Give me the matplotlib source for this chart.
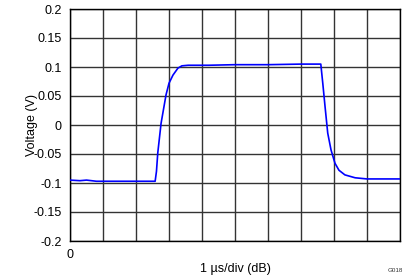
import matplotlib
matplotlib.use("Agg")
import matplotlib.pyplot as plt

plt.rcParams['font.family'] = ['Liberation Sans', 'DejaVu Sans']

# time in divisions (1 us/div), voltage in V
t = [0.0, 0.3, 0.5, 0.8, 1.2, 1.6, 2.0, 2.4, 2.58, 2.62, 2.66, 2.76, 2.91, 3.00,
     3.12, 3.27, 3.39, 3.58, 4.2, 5.0, 6.0, 7.0, 7.55, 7.60, 7.66, 7.73, 7.81,
     7.91, 8.03, 8.15, 8.33, 8.64, 9.0, 9.5, 10.0]
v = [-0.095, -0.096, -0.095, -0.097, -0.097, -0.097, -0.097, -0.097, -0.097,
     -0.080, -0.048, 0.003, 0.052, 0.072, 0.086, 0.098, 0.102, 0.103, 0.103,
     0.104, 0.104, 0.105, 0.105, 0.105, 0.072, 0.031, -0.014, -0.043, -0.066,
     -0.078, -0.086, -0.091, -0.093, -0.093, -0.093]

yticks = [-0.2, -0.15, -0.1, -0.05, 0, 0.05, 0.1, 0.15, 0.2]
ylabels = ["-0.2", "-0.15", "-0.1", "-0.05", "0", "0.05", "0.1", "0.15", "0.2"]

fig = plt.figure(figsize=(4.19, 2.79), dpi=100)
ax = fig.add_axes([70 / 419, 38 / 279, 330 / 419, 232 / 279])

ax.plot(t, v, color="#0000FF", linewidth=1.2, zorder=3)

ax.set_xlim(0, 10)
ax.set_ylim(-0.2, 0.2)
ax.set_xticks(range(11))
ax.set_xticklabels(["0"] + [""] * 10)
ax.set_yticks(yticks)
ax.set_yticklabels(ylabels)
ax.tick_params(length=0, labelsize=9, pad=6)
ax.grid(True, color="#333333", linewidth=1.0)
for s in ax.spines.values():
    s.set_color("black")
    s.set_linewidth(1.0)

ax.set_ylabel("Voltage (V)", fontsize=9, labelpad=-3)
ax.set_xlabel("1 µs/div (dB)", fontsize=9, labelpad=1)
fig.text(395 / 419, 8 / 279, "G018", fontsize=4.5, ha="center", va="center", color="#333333")

fig.savefig("out.png", dpi=100)
